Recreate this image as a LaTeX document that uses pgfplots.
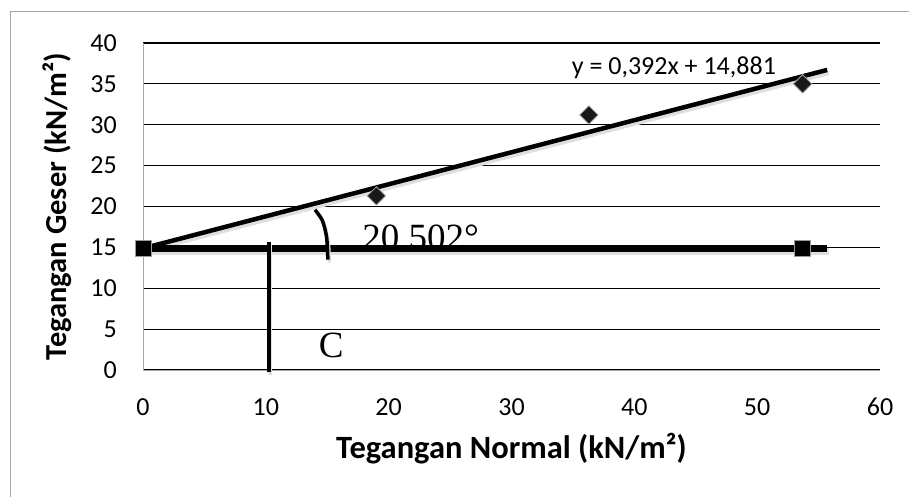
\documentclass[border=0pt]{standalone}
\usepackage{fontspec}
\setmainfont{Carlito}
\newfontfamily\timesfont{Liberation Serif}
\usepackage{pgfplots}
\usepackage{pgfplotstable}
\pgfplotsset{compat=1.18}

% measured points (diamonds)
\pgfplotstableread{
x y
19.0 21.3
36.3 31.2
53.7 35.0
}\geser

\begin{document}
\begin{tikzpicture}[x=1pt,y=1pt]
\useasboundingbox (0,0) rectangle (909,496);
\draw[gray!70, line width=1pt] (10,-5) -- (10,484) -- (915,484);
\begin{axis}[
    at={(143pt,126pt)}, anchor=south west,
    scale only axis, width=737pt, height=327pt,
    xmin=0, xmax=60, ymin=0, ymax=40,
    xtick={0,10,...,60}, ytick={0,5,...,40},
    axis x line=bottom, axis y line=left,
    axis line style={-, gray!70, line width=1pt},
    major tick length=0pt,
    ymajorgrids, grid style={black, line width=1.2pt},
    /pgf/number format/assume math mode=true,
    tick label style={font=\fontsize{26}{26}\selectfont, inner sep=0pt},
    yticklabel style={xshift=-26pt},
    xticklabel style={yshift=-28pt},
    xlabel={Tegangan Normal (kN/m²)},
    ylabel={Tegangan Geser (kN/m²)},
    every axis x label/.style={at={(axis description cs:0.5,-0.24)}, anchor=center,
      font=\fontsize{32.5}{32.5}\selectfont\bfseries},
    every axis y label/.style={at={(axis description cs:-0.117,0.5)}, anchor=center,
      rotate=90, font=\fontsize{30.5}{30.5}\selectfont\bfseries},
    clip=false,
    shadow/.style={preaction={draw, gray!25, transform canvas={xshift=1.5pt, yshift=-3pt}}},
  ]
  % angle label sits behind the thick line
  \node[font=\timesfont\fontsize{37}{37}\selectfont, anchor=base west, inner sep=0pt]
    at (axis cs:17.85,14.68) {20,502°};

  % trend line
  \addplot[black, line width=4.5pt, shadow] coordinates {(0,14.881) (55.7,36.71)};
  % horizontal line at c
  \addplot[black, line width=7.5pt, shadow] coordinates {(0,14.881) (55.7,14.881)};
  \addplot[only marks, mark=square*, mark size=8pt,
    mark options={fill=black, draw=gray!80, line width=0.8pt}]
    coordinates {(0,14.881) (53.7,14.881)};
  \addplot[only marks, mark=square*, mark size=6.5pt,
    mark options={rotate=45, fill=black!90, draw=gray!70, line width=0.8pt}]
    table {\geser};

  % vertical marker and angle arc
  \addplot[black, line width=4pt, shadow] coordinates {(10.25,-0.3) (10.25,15.6)};
  \addplot[black, line width=3.5pt, smooth, shadow] coordinates {(14.0,19.6) (14.6,18.3) (14.95,16.2) (15.05,13.5)};

  \node[font=\timesfont\fontsize{37}{37}\selectfont, anchor=base west, inner sep=0pt]
    at (axis cs:14.3,1.5) {C};
  \node[font=\fontsize{26}{26}\selectfont, anchor=base west, inner sep=0pt]
    at (axis cs:34.9,36.1) {y = 0,392x + 14,881};
\end{axis}
\end{tikzpicture}
\end{document}
